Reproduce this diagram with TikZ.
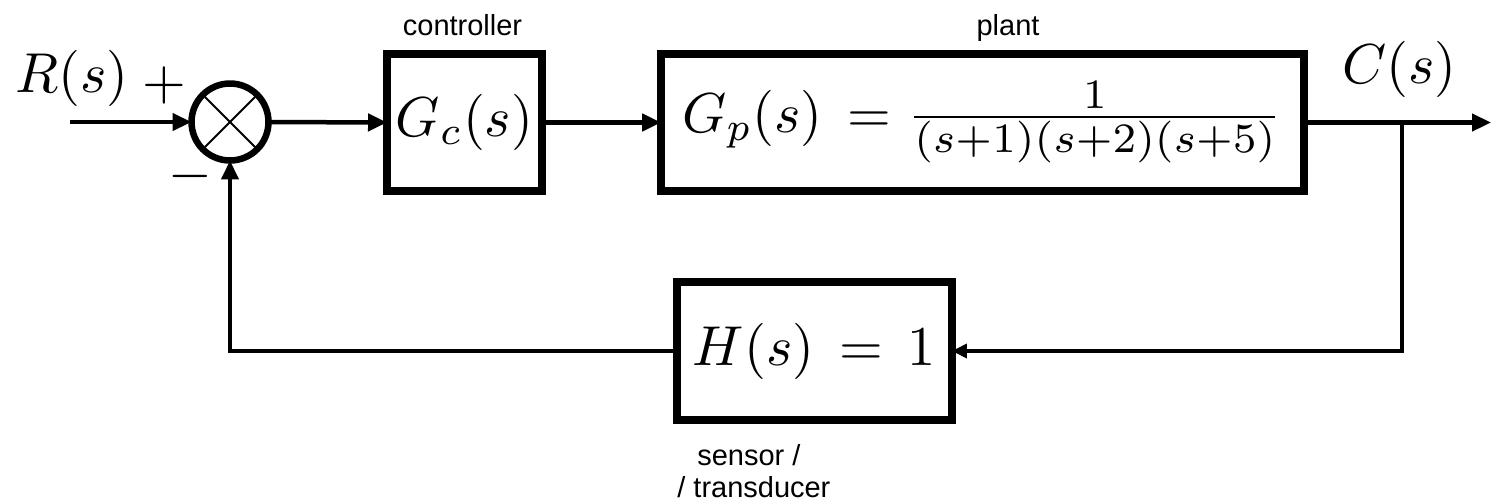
\documentclass[tikz,border=0pt]{standalone}
\usepackage{graphicx}
\usepackage{fontspec}
\newfontfamily\labfont{Liberation Sans}
\usetikzlibrary{arrows.meta,calc}
\newcommand{\mbx}[1]{\scalebox{3.2}{$#1$}}
\newcommand{\fbx}[1]{\scalebox{3.4}{$#1$}}
\begin{document}
\begin{tikzpicture}[x=0.02cm,y=-0.02cm,
  blk/.style={draw, line width=0.16cm, inner sep=0pt, outer sep=0pt},
  sumnode/.style={draw, circle, line width=0.13cm, minimum size=1.54cm, inner sep=0pt, outer sep=0pt},
  conn/.style={line width=0.09cm},
  arr/.style={conn, -{Triangle[length=0.38cm,width=0.34cm]}},
  sarr/.style={conn, -{Triangle[length=0.3cm,width=0.28cm]}},
  lab/.style={font=\labfont\fontsize{16.5}{20}\selectfont, inner sep=0pt},
  mlab/.style={inner sep=0pt}]
\useasboundingbox (0,0) rectangle (1491,501);

% blocks
\node[sumnode] (sum) at (230,122) {};
\node[blk, minimum width=3.1cm, minimum height=2.74cm] (gc) at (464.5,122.5) {\mbx{G_c(s)}};
\node[blk, minimum width=12.86cm, minimum height=2.74cm] (gp) at (982.5,122.5) {\mbx{G_p(s)\,=\;}\fbx{\frac{1}{(s+1)(s+2)(s+5)}}};
\node[blk, minimum width=5.5cm, minimum height=2.76cm] (h) at (814.5,351) {\mbx{H(s)\,=\,1}};

% cross in summing junction
\draw[line width=0.04cm] (sum.45) -- (sum.225) (sum.135) -- (sum.315);

% coordinates
\coordinate (in) at (70,122);
\coordinate (out) at (1491,122.5);
\coordinate (br) at (1402,122.5);

% connectors
\draw[arr] (in) -- (sum.west);
\draw[arr] (sum.east) -- (gc.west);
\draw[arr] (gc.east) -- (gp.west);
\draw[arr] (gp.east) -- (out);
\draw[sarr] (br) |- (h.east);
\draw[arr] (h.west) -| (sum.south);

% labels
\node[mlab, anchor=base west] (rs) at (15,92) {\mbx{R(s)}};
\node[mlab] (plus) at (164,85) {\mbx{+}};
\node[mlab] (minus) at (190,176) {\mbx{-}};
\node[mlab, anchor=base west] (cs) at (1342,83) {\mbx{C(s)}};
\node[lab, anchor=base] (lctrl) at (462.5,35) {controller};
\node[lab, anchor=base] (lplant) at (1008,35) {plant};
\node[lab, anchor=base west] (lsens1) at (697,465) {sensor~/};
\node[lab, anchor=base west] (lsens2) at (677,497) {/ transducer};
\end{tikzpicture}
\end{document}
